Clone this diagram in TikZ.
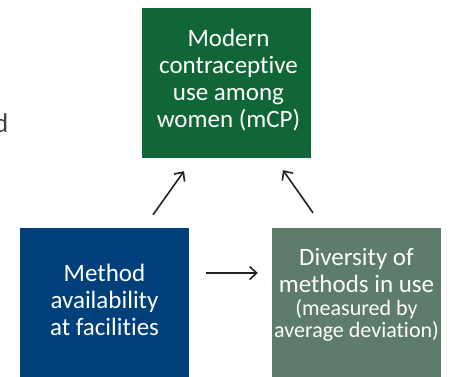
\documentclass[tikz,border=0pt]{standalone}
\usepackage{fontspec}
\setmainfont{Carlito}[Ligatures={NoCommon,NoContextual}]
\usetikzlibrary{arrows.meta}
\definecolor{mcpgreen}{RGB}{17,102,56}
\definecolor{availblue}{RGB}{0,64,122}
\definecolor{divsage}{RGB}{94,124,108}
\definecolor{linkgray}{RGB}{34,34,34}
\definecolor{cutgray}{RGB}{64,64,64}

\begin{document}
\begin{tikzpicture}[x=1pt, y=1pt,
          box/.style={rectangle, minimum width=169pt, minimum height=150pt, inner sep=0pt},
          txt/.style={align=center, text=white, inner sep=0pt, font=\fontsize{25}{27}\selectfont},
          small/.style={font=\fontsize{22}{22}\selectfont},
          link/.style={linkgray, line width=1.6pt, -{Straight Barb[length=7pt, width=13pt]}}]
        \useasboundingbox (0,0) rectangle (450,377);
        \clip (0,0) rectangle (450,377);
        \node[box, fill=mcpgreen] (mcp) at (226.5,294) {};
        \node[box, fill=availblue] (avail) at (104.5,74) {};
        \node[box, fill=divsage] (div) at (356.5,74) {};
        \node[txt] (mcptext) at ([xshift=2, yshift=3]mcp.center) {Modern\\contraceptive\\use among\\women (mCP)};
        \node[txt] (availtext) at ([yshift=3]avail.center) {Method\\availability\\at facilities};
        \node[txt] (divtext) at ([yshift=8]div.center) {Diversity of\\methods in use\\[-4pt]
          {\fontsize{22}{22}\selectfont (measured by}\\[-5pt]{\fontsize{22}{22}\selectfont average deviation)}};
        \node[font=\fontsize{27}{30}\selectfont, text=cutgray, inner sep=0pt, anchor=base east] (cut) at (8.5,244) {d};
        \draw[link] ([shift={(48.5,13)}]avail.north) -- ([shift={(-42.5,-13)}]mcp.south);
        \draw[link] ([shift={(-43.5,15)}]div.north) -- ([shift={(56.5,-12)}]mcp.south);
        \draw[link] ([shift={(17,30)}]avail.east) -- ([shift={(-14,30)}]div.west);
      \end{tikzpicture}
\end{document}
